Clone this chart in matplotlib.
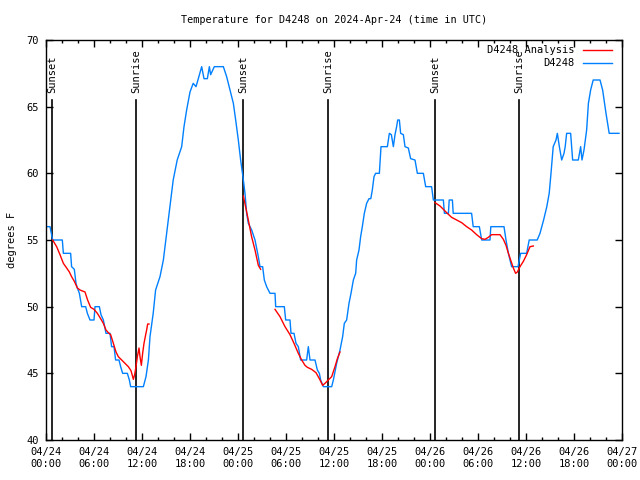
# Temperature for station D4248, 3 days, with sunrise/sunset markers (gnuplot look).
import matplotlib
matplotlib.use('Agg')
import matplotlib.pyplot as plt
from matplotlib.ticker import MultipleLocator

plt.rcParams['font.family'] = ['DejaVu Sans Mono']
plt.rcParams['font.size'] = 7

# hours since 2024-04-24 00:00 UTC
obs_hours = [0, 0.5, 0.83, 2.04, 2.17, 3.08, 3.2, 3.54, 3.75, 3.92, 4.17, 4.46, 4.96, 5.17, 5.5, 6.0,
             6.125, 6.67, 6.875, 7.17, 7.5, 8.0, 8.2, 8.5, 8.7, 9.125, 9.33, 9.58, 10.17, 10.42, 10.58,
             12.17, 12.5, 12.8, 13.0, 13.4, 13.7, 14.25, 14.67, 15.08, 15.5, 15.9, 16.4, 16.96, 17.25,
             17.58, 18.0, 18.4, 18.75, 19.04, 19.46, 19.75, 20.17, 20.42, 20.58, 21.04, 22.17, 22.58,
             23.0, 23.42, 23.71, 24.04, 24.33, 24.67, 24.875, 25.08, 25.29, 25.71, 26.125, 26.54, 26.75,
             27.08, 27.29, 27.58, 28.0, 28.625, 28.71, 29.79, 29.96, 30.5, 30.625, 31.0, 31.25, 31.54,
             31.83, 32.58, 32.79, 33.0, 33.625, 33.92, 34.17, 34.33, 34.67, 35.71, 35.92, 36.33, 36.75,
             37.08, 37.29, 37.58, 37.875, 38.125, 38.42, 38.71, 38.83, 39.125, 39.33, 39.54, 39.79,
             40.08, 40.375, 40.6, 40.79, 41.0, 41.2, 41.67, 41.83, 41.875, 42.67, 42.92, 43.17, 43.42,
             43.625, 43.83, 43.96, 44.17, 44.33, 44.67, 44.875, 45.29, 45.58, 46.125, 46.42, 47.17,
             47.46, 48.2, 48.42, 49.67, 49.8, 50.3, 50.4, 50.8, 50.9, 53.2, 53.4, 54.17, 54.46, 55.5,
             55.6, 57.25, 57.5, 57.8, 58.2, 59.0, 59.33, 60.08, 60.4, 61.4, 61.75, 62.2, 62.6, 62.9,
             63.125, 63.4, 63.75, 63.92, 64.17, 64.46, 64.75, 64.9, 65.08, 65.58, 65.83, 66.54, 66.83,
             67.0, 67.25, 67.58, 67.8, 68.08, 68.4, 69.25, 69.58, 70.0, 70.4, 71.625]
obs_temps = [56.0, 56.0, 55.0, 55.0, 54.0, 54.0, 53.0, 52.8, 51.75, 51.4, 51.0, 50.0, 50.0, 49.5, 49.0, 49.0,
             50.0, 50.0, 49.4, 49.0, 48.0, 48.0, 47.0, 47.0, 46.0, 46.0, 45.5, 45.0, 45.0, 44.5, 44.0,
             44.0, 44.75, 46.0, 47.75, 49.5, 51.25, 52.25, 53.5, 55.5, 57.5, 59.5, 61.0, 62.0, 63.5,
             64.75, 66.1, 66.75, 66.5, 67.1, 68.0, 67.1, 67.1, 68.0, 67.4, 68.0, 68.0, 67.25,
             66.25, 65.25, 64.0, 62.5, 61.0, 59.5, 58.5, 57.0, 56.25, 55.75, 55.0, 53.75, 53.0,
             53.0, 52.0, 51.5, 51.0, 51.0, 50.0, 50.0, 49.0, 49.0, 48.0, 48.0, 47.25, 47.0,
             46.0, 46.0, 47.0, 46.0, 46.0, 45.25, 45.0, 44.5, 44.0, 44.0, 44.5, 45.75, 46.75,
             47.75, 48.75, 49.0, 50.25, 51.0, 52.0, 52.5, 53.5, 54.25, 55.25, 56.0, 57.0,
             57.75, 58.1, 58.1, 58.75, 59.75, 60.0, 60.0, 61.5, 62.0, 62.0, 63.0, 62.9, 62.0,
             62.9, 63.5, 64.0, 64.0, 63.0, 62.9, 62.0, 61.9, 61.1, 61.0, 60.0, 60.0,
             59.0, 59.0, 58.0, 58.0, 57.0, 57.0, 58.0, 58.0, 57.0, 57.0, 56.0, 56.0, 55.0, 55.0,
             56.0, 56.0, 55.0, 54.0, 53.0, 53.0, 54.0, 54.0, 55.0, 55.0, 55.5, 56.5, 57.5, 58.5,
             60.0, 62.0, 62.5, 63.0, 62.0, 61.0, 61.5, 62.0, 63.0, 63.0, 61.0, 61.0, 62.0,
             61.0, 61.75, 63.25, 65.25, 66.25, 67.0, 67.0, 66.25, 64.5, 63.0, 63.0]

# analysis series, split where the original has gaps
ana_hours_1 = [0.83, 1.33, 1.75, 2.17, 2.58, 2.92, 3.2, 3.54, 3.92, 4.25, 4.875, 5.2, 5.58, 6.0, 6.42,
               6.83, 7.17, 7.5, 7.79, 8.08, 8.42, 8.75, 9.04, 9.46, 9.875, 10.29, 10.625, 10.92, 11.08,
               11.25, 11.42, 11.625, 11.75, 11.92, 12.08, 12.25, 12.46, 12.58, 12.71, 12.875]
ana_temps_1 = [55.0, 54.5, 53.9, 53.25, 52.9, 52.6, 52.25, 51.9, 51.4, 51.25, 51.1, 50.5, 49.95, 49.8, 49.5,
               49.1, 48.75, 48.25, 48.05, 47.9, 47.25, 46.6, 46.25, 46.0, 45.75, 45.5, 45.2, 44.55, 44.9,
               45.5, 46.25, 46.9, 46.25, 45.6, 46.5, 47.25, 47.9, 48.25, 48.7, 48.7]
ana_hours_2 = [24.67, 25.29, 25.7, 26.125, 26.54, 26.83]
ana_temps_2 = [58.3, 56.5, 55.25, 54.25, 53.1, 52.8]
ana_hours_3 = [28.625, 29.25, 29.875, 30.5, 31.0, 31.54, 31.96, 32.375, 32.67, 33.2, 33.75, 34.17, 34.58,
               34.875, 35.29, 35.71, 36.125, 36.42, 36.75]
ana_temps_3 = [49.8, 49.25, 48.5, 47.9, 47.25, 46.5, 46.0, 45.6, 45.45, 45.3, 45.05, 44.6, 44.1,
               44.25, 44.5, 44.75, 45.5, 46.1, 46.6]
ana_hours_4 = [48.625, 49.25, 49.67, 50.08, 50.7, 51.33, 51.96, 52.58, 53.2, 53.83, 54.46, 54.875, 55.29,
               55.7, 56.75, 57.17, 57.5, 57.8, 58.08, 58.42, 58.7, 58.92, 59.25, 59.67, 60.08, 60.5, 60.92]
ana_temps_4 = [57.8, 57.55, 57.3, 57.05, 56.7, 56.5, 56.3, 56.0, 55.75, 55.4, 55.1, 55.05, 55.2,
               55.4, 55.4, 55.05, 54.6, 54.0, 53.5, 52.9, 52.5, 52.6, 53.0, 53.4, 53.9, 54.5, 54.55]

sun_hours = [0.79, 11.29, 24.67, 35.29, 48.67, 59.17]
sun_labels = ['Sunset', 'Sunrise', 'Sunset', 'Sunrise', 'Sunset', 'Sunrise']

tick_hours = list(range(0, 73, 6))
tick_labels = ['04/24\n00:00', '04/24\n06:00', '04/24\n12:00', '04/24\n18:00',
               '04/25\n00:00', '04/25\n06:00', '04/25\n12:00', '04/25\n18:00',
               '04/26\n00:00', '04/26\n06:00', '04/26\n12:00', '04/26\n18:00',
               '04/27\n00:00']

RED = '#ff0000'
BLUE = '#0080ff'

fig = plt.figure(figsize=(6.4, 4.8), dpi=100)
ax = fig.add_axes([46 / 640, 40 / 480, 576 / 640, 400 / 480])

for h, lab in zip(sun_hours, sun_labels):
    ax.plot([h, h], [40, 65.5], color='black', lw=1.2, zorder=1)
    ax.text(h, 66.0, lab, rotation=90, ha='center', va='bottom', fontsize=7.5)

for hh, tt in [(ana_hours_1, ana_temps_1), (ana_hours_2, ana_temps_2),
               (ana_hours_3, ana_temps_3), (ana_hours_4, ana_temps_4)]:
    ax.plot(hh, tt, color=RED, lw=1.0, zorder=3)
ax.plot(obs_hours, obs_temps, color=BLUE, lw=1.0, zorder=2)

ax.set_xlim(0, 72)
ax.set_ylim(40, 70)
ax.set_xticks(tick_hours)
ax.set_xticklabels(tick_labels)
ax.xaxis.set_minor_locator(MultipleLocator(2))
ax.set_yticks(range(40, 71, 5))
ax.tick_params(which='both', direction='in', top=True, right=True, labelsize=7.5, pad=5)
ax.tick_params(which='major', length=5, width=1)
ax.tick_params(which='minor', length=2.5, width=1)
for s in ax.spines.values():
    s.set_linewidth(1)

# legend, gnuplot style: right aligned text with sample line after it
ax.text(0.918, 0.975, 'D4248 Analysis', transform=ax.transAxes, ha='right', va='center', fontsize=7.5)
ax.plot([0.932, 0.983], [0.975, 0.975], transform=ax.transAxes, color=RED, lw=1.0)
ax.text(0.918, 0.9425, 'D4248', transform=ax.transAxes, ha='right', va='center', fontsize=7.5)
ax.plot([0.932, 0.983], [0.9425, 0.9425], transform=ax.transAxes, color=BLUE, lw=1.0)

fig.text(334 / 640, 1 - 20 / 480, 'Temperature for D4248 on 2024-Apr-24 (time in UTC)',
         ha='center', va='center', fontsize=7.3)
fig.text(12 / 640, 0.5, 'degrees F', rotation=90, ha='center', va='center', fontsize=7.5)

fig.savefig('out.png', dpi=100)
